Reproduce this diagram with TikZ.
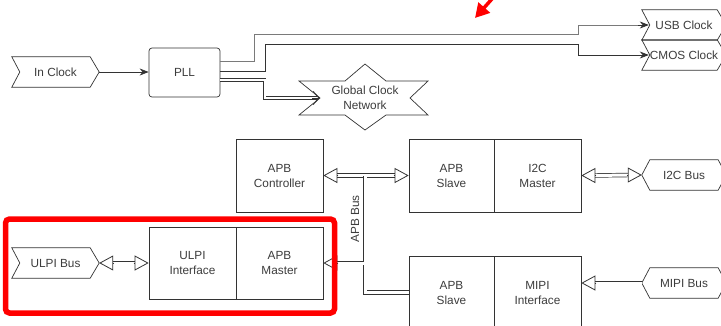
\documentclass[tikz,border=0pt]{standalone}
\usepackage{fontspec}
\setmainfont{Liberation Sans}
\usetikzlibrary{arrows.meta}
\definecolor{lc}{HTML}{333333}
\definecolor{tc}{HTML}{3C3C3C}
\definecolor{gl}{HTML}{7A7A7A}
\begin{document}
\begin{tikzpicture}[x=1pt,y=-1pt,
  txt/.style={font=\fontsize{11.8}{15}\selectfont, text=tc, align=center},
  blk/.style={txt, draw=lc, line width=0.7pt, inner sep=0pt, minimum height=73pt},
  sig/.style={txt, inner sep=0pt, minimum height=30pt},
  shp/.style={draw=lc, line width=0.7pt},
  fa/.style={draw=lc, line width=0.7pt, -{Stealth[length=9pt,width=7pt]}},
  bus/.style={draw=lc, line width=0.7pt, double=white, double distance=3pt},
  htip/.style={draw=lc, line width=0.8pt, -{Triangle[length=14pt,width=15pt,fill=white]}},
  gtip/.style={draw=lc, line width=1pt, -{Straight Barb[length=6pt,width=13pt]}}
]
\useasboundingbox (0,0) rectangle (721,325);

% nodes
\node[sig, minimum width=87pt] (inclk) at (55.5,72) {In Clock};
\node[blk, rounded corners=3pt, minimum width=71pt, minimum height=49pt] (pll) at (184.5,72.5) {PLL};
\node[sig, minimum width=84pt] (usb) at (684,25) {USB Clock};
\node[sig, minimum width=84pt] (cmos) at (684,55) {CMOS Clock};
\node[txt, inner sep=0pt, minimum width=90pt, minimum height=30pt] (gcn) at (365,98) {Global Clock\\Network};

\node[blk, minimum width=87pt] (ctrl) at (279.5,175.5) {APB\\Controller};
\node[blk, minimum width=85pt] (slv1) at (451.5,175.5) {APB\\Slave};
\node[blk, minimum width=87pt] (i2cm) at (537.5,175.5) {I2C\\Master};
\node[blk, minimum width=85pt] (slv2) at (451.5,292.5) {APB\\Slave};
\node[blk, minimum width=87pt] (mipi) at (537.5,292.5) {MIPI\\Interface};
\node[blk, minimum width=87pt, minimum height=72pt] (ulpi) at (192.5,263) {ULPI\\Interface};
\node[blk, minimum width=87pt, minimum height=72pt] (apbm) at (279.5,263) {APB\\Master};

\node[sig, minimum width=87pt] (ulpib) at (55.5,263) {ULPI Bus};
\node[sig, minimum width=84pt] (i2cb) at (684,175) {I2C Bus};
\node[sig, minimum width=84pt] (mipib) at (684,283) {MIPI Bus};

\node[txt, rotate=90] (apblbl) at (355,219) {APB Bus};

% signal outlines
\foreach \n in {inclk,ulpib,usb,cmos}
  \draw[shp] (\n.north west) -- ([xshift=-9pt]\n.north east) -- (\n.east)
     -- ([xshift=-9pt]\n.south east) -- (\n.south west) -- ([xshift=8pt]\n.west) -- cycle;
\foreach \n in {i2cb,mipib}
  \draw[shp] (\n.west) -- ([xshift=8pt]\n.north west) -- ([xshift=-8pt]\n.north east) -- (\n.east)
     -- ([xshift=-8pt]\n.south east) -- ([xshift=8pt]\n.south west) -- cycle;

% global clock star
\draw[shp] (299,81) -- (345,81) -- (365,64) -- (386,81) -- (428,81) -- (410,98)
  -- (428,115) -- (386,115) -- (365,130) -- (345,115) -- (299,115) -- (320,98) -- cycle;

% clock connectors
\draw[fa] (inclk.east) -- (pll.west |- inclk.east);
\draw[draw=gl, line width=0.8pt] (pll.east |- 0,61) -| (254,34) -| (578,25) -- ([xshift=2pt]usb.west);
\draw[fa] ([xshift=-4pt]usb.west) -- ([xshift=7pt]usb.west);
\draw[draw=lc, line width=0.8pt] (pll.east |- 0,71) -| (265,44) -| (578,55) -- ([xshift=2pt]cmos.west);
\draw[fa] ([xshift=-4pt]cmos.west) -- ([xshift=7pt]cmos.west);
\draw[draw=lc, line width=0.7pt, double=white, double distance=2pt] (pll.east |- 0,80) -| (264.5,98) -- ([xshift=-2pt]gcn.west);
\draw[gtip] ([xshift=-8pt]gcn.west) -- (gcn.west);

% buses
\coordinate (busT) at (365,176.3);
\coordinate (busM) at (363.6,263);
\coordinate (mipiin) at (mipi.east |- mipib.west);
\draw[bus] ([xshift=12pt]ctrl.east) -- ([xshift=-12pt]slv1.west);
\draw[bus] (busT) -- (busT |- slv2.west) -- (slv2.west);
\draw[bus] (busM) -- ([xshift=12pt]apbm.east);
\draw[bus] ([xshift=12pt]ulpib.east) -- ([xshift=-12pt]ulpi.west);
\draw[bus] ([xshift=12pt]i2cm.east) -- ([xshift=-12pt]i2cb.west);
\draw[bus] (mipib.west) -- ([xshift=12pt]mipiin);

\draw[htip] ([xshift=15pt]ctrl.east) -- (ctrl.east);
\draw[htip] ([xshift=-15pt]slv1.west) -- (slv1.west);
\draw[htip] ([xshift=15pt]apbm.east) -- (apbm.east);
\draw[htip] ([xshift=15pt]ulpib.east) -- (ulpib.east);
\draw[htip] ([xshift=-15pt]ulpi.west) -- (ulpi.west);
\draw[htip] ([xshift=15pt]i2cm.east) -- (i2cm.east);
\draw[htip] ([xshift=-15pt]i2cb.west) -- (i2cb.west);
\draw[htip] ([xshift=15pt]mipiin) -- (mipiin);

% highlight
\draw[red, line width=5.5pt, rounded corners=4pt] (5.5,219) rectangle (334.5,313);
\coordinate (ra1) at (499,-9);
\coordinate (ra2) at (475,18);
\draw[red, line width=3.5pt, -{Triangle[length=14pt,width=15pt]}] (ra1) -- (ra2);
\end{tikzpicture}
\end{document}
